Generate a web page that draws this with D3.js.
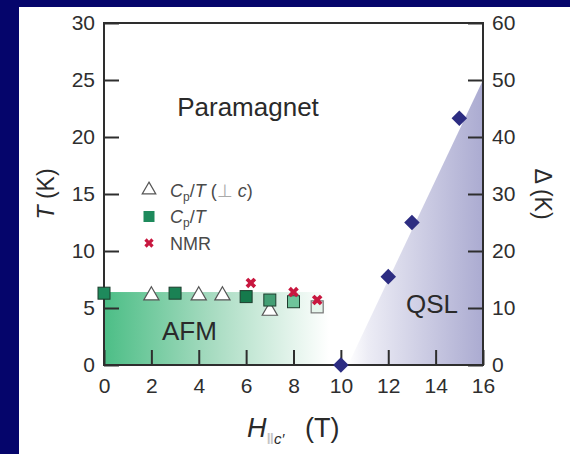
<!DOCTYPE html>
<html>
<head>
<meta charset="utf-8">
<script src="https://cdn.jsdelivr.net/npm/d3@7"></script>
<style>
  html, body { margin: 0; padding: 0; background: #05056b; }
  svg { display: block; font-family: "Liberation Sans", Arial, Helvetica, sans-serif; }
</style>
</head>
<body>
<script>
// chart size
const width = 570;
const height = 454;

// ticks
const xTicks = [0, 2, 4, 6, 8, 10, 12, 14, 16];
const tTicks = [0, 5, 10, 15, 20, 25, 30];
const gapTicks = [0, 10, 20, 30, 40, 50, 60];

// Cp/T (perp c): open triangles
const perpField = [2, 4, 5, 7];
const perpT = [6.1, 6.1, 6.1, 4.75];

// Cp/T: filled squares
const cpField = [0, 3, 6, 7, 8];
const cpT = [6.3, 6.3, 6.0, 5.7, 5.55];

// open squares (no legend entry)
const openField = [9];
const openT = [5.1];

// NMR
const nmrField = [6.2, 8, 9];
const nmrT = [7.2, 6.4, 5.7];

// spin gap, right axis
const gapField = [10, 12, 13, 15];
const gapDelta = [0, 15.5, 25, 43.3];

// phase regions
const afmTop = 6.4;
const afmEnd = 10;
const qslEdge = [[10.3, 0], [16, 50], [16, 0]];

const { d3 } = window;

const svg = d3
  .select("body")
  .append("svg")
  .attr("width", width)
  .attr("height", height);

// dark frame + white panel
svg.append("rect").attr("width", width).attr("height", height).attr("fill", "#05056b");
svg.append("rect").attr("x", 19).attr("y", 7).attr("width", width - 19).attr("height", height - 7).attr("fill", "#fff");

const x = d3.scaleLinear().domain([0, 16]).range([104, 483]);
const y = d3.scaleLinear().domain([0, 30]).range([365, 23]);
const y2 = d3.scaleLinear().domain([0, 60]).range([365, 23]);

const defs = svg.append("defs");

const gGreen = defs
  .append("linearGradient")
  .attr("id", "afm")
  .attr("gradientUnits", "userSpaceOnUse")
  .attr("x1", x(0))
  .attr("x2", x(afmEnd))
  .attr("y1", 0)
  .attr("y2", 0);
gGreen.append("stop").attr("offset", 0).attr("stop-color", "#4cbe86");
gGreen.append("stop").attr("offset", 0.45).attr("stop-color", "#a6dbc0");
gGreen.append("stop").attr("offset", 0.95).attr("stop-color", "#ffffff");

const gPurple = defs
  .append("linearGradient")
  .attr("id", "qsl")
  .attr("gradientUnits", "userSpaceOnUse")
  .attr("x1", x(qslEdge[0][0]))
  .attr("x2", x(16))
  .attr("y1", 0)
  .attr("y2", 0);
gPurple.append("stop").attr("offset", 0).attr("stop-color", "#ffffff");
gPurple.append("stop").attr("offset", 0.15).attr("stop-color", "#ececf5");
gPurple.append("stop").attr("offset", 1).attr("stop-color", "#ababd1");

// AFM region
svg
  .append("rect")
  .attr("x", x(0))
  .attr("y", y(afmTop))
  .attr("width", x(afmEnd) - x(0))
  .attr("height", y(0) - y(afmTop))
  .attr("fill", "url(#afm)");

// QSL region
svg
  .append("path")
  .datum(qslEdge)
  .attr("d", d3.line().x((d) => x(d[0])).y((d) => y2(d[1])))
  .attr("fill", "url(#qsl)");

// axes, ticks pointing inward
const axisColor = "#2e2e2e";
const fontSize = 21;

const bottom = svg
  .append("g")
  .attr("transform", `translate(0,${y(0)})`)
  .call(d3.axisBottom(x).tickValues(xTicks).tickSizeInner(-15).tickSizeOuter(0).tickPadding(13));
const left = svg
  .append("g")
  .attr("transform", `translate(${x(0)},0)`)
  .call(d3.axisLeft(y).tickValues(tTicks).tickSizeInner(-15).tickSizeOuter(0).tickPadding(9));
const right = svg
  .append("g")
  .attr("transform", `translate(${x(16)},0)`)
  .call(d3.axisRight(y2).tickValues(gapTicks).tickSizeInner(-15).tickSizeOuter(0).tickPadding(9));

[bottom, left, right].forEach((g) => {
  g.attr("color", axisColor).attr("font-family", null).attr("font-size", fontSize);
  g.select(".domain").remove();
  g.selectAll(".tick line").attr("stroke-width", 2);
});

// frame
svg
  .append("rect")
  .attr("x", x(0))
  .attr("y", y(30))
  .attr("width", x(16) - x(0))
  .attr("height", y(0) - y(30))
  .attr("fill", "none")
  .attr("stroke", axisColor)
  .attr("stroke-width", 2);

// data points
const tri = d3.symbol(d3.symbolTriangle, 100);
const cross = d3.symbol(d3.symbolCross, 70);
const sq = 12;
const greenFill = d3.scaleLinear().domain([0, 6, 8]).range(["#1e8a5c", "#157a4c", "#6fc49b"]);

svg
  .append("g")
  .selectAll("path")
  .data(perpField.map((f, i) => ({ f, t: perpT[i] })))
  .join("path")
  .attr("d", tri)
  .attr("transform", (d) => `translate(${x(d.f)},${y(d.t)})`)
  .attr("fill", "#fff")
  .attr("stroke", "#555")
  .attr("stroke-width", 1.2);

svg
  .append("g")
  .selectAll("rect")
  .data(cpField.map((f, i) => ({ f, t: cpT[i] })))
  .join("rect")
  .attr("x", (d) => x(d.f) - sq / 2)
  .attr("y", (d) => y(d.t) - sq / 2)
  .attr("width", sq)
  .attr("height", sq)
  .attr("fill", (d) => greenFill(d.f))
  .attr("stroke", "#1d3d2d")
  .attr("stroke-width", 1);

svg
  .append("g")
  .selectAll("rect")
  .data(openField.map((f, i) => ({ f, t: openT[i] })))
  .join("rect")
  .attr("x", (d) => x(d.f) - sq / 2)
  .attr("y", (d) => y(d.t) - sq / 2)
  .attr("width", sq)
  .attr("height", sq)
  .attr("fill", "#e6f5ec")
  .attr("stroke", "#777")
  .attr("stroke-width", 1.2);

svg
  .append("g")
  .selectAll("path")
  .data(nmrField.map((f, i) => ({ f, t: nmrT[i] })))
  .join("path")
  .attr("d", cross)
  .attr("transform", (d) => `translate(${x(d.f)},${y(d.t)}) rotate(45)`)
  .attr("fill", "#c8173f");

svg
  .append("g")
  .selectAll("rect")
  .data(gapField.map((f, i) => ({ f, v: gapDelta[i] })))
  .join("rect")
  .attr("x", -5.5)
  .attr("y", -5.5)
  .attr("width", 11)
  .attr("height", 11)
  .attr("transform", (d) => `translate(${x(d.f)},${y2(d.v)}) rotate(45)`)
  .attr("fill", "#2d2d82");

// legend
const legend = svg.append("g").attr("transform", "translate(149,190)");
const rowGap = 26.5;
legend.append("path").attr("d", d3.symbol(d3.symbolTriangle, 80)).attr("fill", "#fff").attr("stroke", "#555").attr("stroke-width", 1.2);
legend.append("rect").attr("x", -5.5).attr("y", rowGap - 5.5).attr("width", 11).attr("height", 11).attr("fill", "#1e8a5c");
legend.append("path").attr("d", d3.symbol(d3.symbolCross, 55)).attr("transform", `translate(0,${rowGap * 2}) rotate(45)`).attr("fill", "#c8173f");

const lt = legend.append("g").attr("fill", "#4a4a4a").attr("font-size", 18);
const row1 = lt.append("text").attr("x", 21).attr("y", 6.5);
row1.append("tspan").attr("font-style", "italic").text("C");
row1.append("tspan").attr("font-size", 12).attr("dy", 4).text("p");
row1.append("tspan").attr("dy", -4).text("/");
row1.append("tspan").attr("font-style", "italic").text("T");
row1.append("tspan").text(" (");
row1.append("tspan").attr("fill", "#aaa").text("⊥");
row1.append("tspan").text(" ");
row1.append("tspan").attr("font-style", "italic").text("c");
row1.append("tspan").text(")");

const row2 = lt.append("text").attr("x", 21).attr("y", rowGap + 6.5);
row2.append("tspan").attr("font-style", "italic").text("C");
row2.append("tspan").attr("font-size", 12).attr("dy", 4).text("p");
row2.append("tspan").attr("dy", -4).text("/");
row2.append("tspan").attr("font-style", "italic").text("T");

lt.append("text").attr("x", 21).attr("y", rowGap * 2 + 6.5).text("NMR");

// region labels
const labels = svg.append("g").attr("fill", "#2a2a2a").attr("font-size", 26);
labels.append("text").attr("x", 248).attr("y", 116).attr("text-anchor", "middle").text("Paramagnet");
labels.append("text").attr("x", 162).attr("y", 340).text("AFM");
labels.append("text").attr("x", 458).attr("y", 313).attr("text-anchor", "end").text("QSL");

// axis titles
const titles = svg.append("g").attr("fill", "#2a2a2a");
const yt = titles
  .append("text")
  .attr("transform", `translate(54,${(y(0) + y(30)) / 2}) rotate(-90)`)
  .attr("text-anchor", "middle")
  .attr("font-size", 23);
yt.append("tspan").attr("font-style", "italic").text("T");
yt.append("tspan").text(" (K)");

titles
  .append("text")
  .attr("transform", `translate(535,${(y(0) + y(30)) / 2}) rotate(90)`)
  .attr("text-anchor", "middle")
  .attr("font-size", 23)
  .text("Δ (K)");

const xt = titles.append("text").attr("x", 247).attr("y", 437).attr("font-size", 27);
xt.append("tspan").attr("font-style", "italic").text("H");
xt.append("tspan").attr("font-size", 15).attr("dy", 7).attr("fill", "#c4c4c4").attr("font-weight", "bold").text("‖");
xt.append("tspan").attr("font-size", 15).attr("font-style", "italic").text("c′");
xt.append("tspan").attr("dy", -7).attr("x", 305).text("(T)");
</script>
</body>
</html>
